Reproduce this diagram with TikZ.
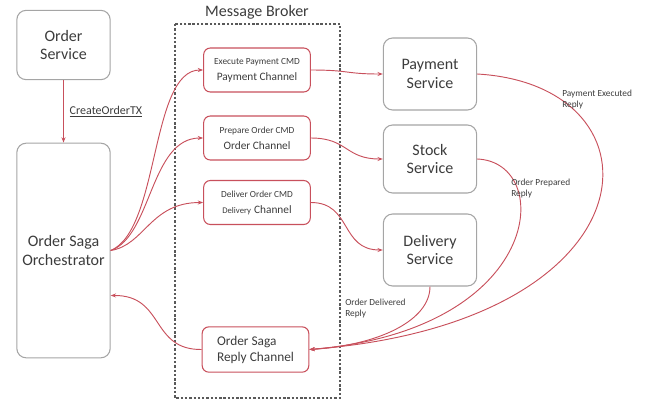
\documentclass[tikz,border=0pt]{standalone}
\usepackage{fontspec}
\setmainfont{Carlito}
\usetikzlibrary{arrows.meta}
\definecolor{sagared}{RGB}{200,80,92}
\definecolor{boxgray}{RGB}{165,165,165}
\definecolor{inkgray}{RGB}{60,60,60}

\begin{document}
\begin{tikzpicture}[x=0.75pt, y=-0.75pt,
    service/.style={draw=boxgray, line width=0.8pt, rounded corners=7pt, align=center,
      text=inkgray, font=\fontsize{12}{14}\selectfont, minimum width=70pt},
    channel/.style={draw=sagared, line width=0.8pt, rounded corners=5pt, align=center,
      text=inkgray, minimum width=80pt, minimum height=33pt, inner sep=1pt},
    flow/.style={draw=sagared, line width=0.7pt, -{Stealth[length=4pt, width=3pt]}},
    replynote/.style={align=left, text=inkgray, font=\fontsize{7}{8}\selectfont, anchor=north west, inner sep=0pt}]
  \useasboundingbox (0,0) rectangle (654,408);
  % message broker frame
  \draw[black!65, line width=1pt, dash pattern=on 1.8pt off 1.4pt] (175,24) rectangle (340,398);
  \node[text=inkgray, font=\fontsize{12}{14}\selectfont] (broker) at (257,12) {Message Broker};
  % services
  \node[service, minimum height=52pt] (ordersvc) at (63.5,45) {Order\\Service};
  \node[service, minimum height=161pt] (orch) at (63.5,250.5) {Order Saga\\Orchestrator};
  \node[service, minimum height=54pt] (paysvc) at (430,74) {Payment\\Service};
  \node[service, minimum height=51pt] (stocksvc) at (430,159) {Stock\\Service};
  \node[service, minimum height=54pt] (delsvc) at (430,250) {Delivery\\Service};
  % channels
  \node[channel] (paychan) at (257,70) {{\fontsize{7}{8}\selectfont Execute Payment CMD}\\{\fontsize{8.5}{10}\selectfont Payment Channel}};
  \node[channel] (prepchan) at (257,138) {{\fontsize{7}{8}\selectfont Prepare Order CMD}\\{\fontsize{8.5}{10}\selectfont Order Channel}};
  \node[channel] (delchan) at (257,202.5) {{\fontsize{7}{8}\selectfont Deliver Order CMD}\\{\fontsize{6.5}{10}\selectfont Delivery} {\fontsize{8.5}{10}\selectfont Channel}};
  \node[channel, minimum height=34pt, align=left, font=\fontsize{10}{12}\selectfont] (replychan) at (255.5,349.5) {Order Saga\\Reply Channel};
  % commands
  \draw[flow] (ordersvc) -- node[right, text=inkgray, font=\fontsize{9}{10}\selectfont, xshift=1pt] {\underline{CreateOrderTX}} (orch);
  \draw[flow] (orch.east) .. controls (160,230) and (150,70) .. (paychan.west);
  \draw[flow] (orch.east) .. controls (152,236) and (150,138) .. (prepchan.west);
  \draw[flow] (orch.east) .. controls (145,245) and (150,202.5) .. (delchan.west);
  \draw[flow] (paychan.east) .. controls (350,70) and (345,74) .. (paysvc.west);
  \draw[flow] (prepchan.east) .. controls (348,138) and (345,159) .. (stocksvc.west);
  \draw[flow] (delchan.east) .. controls (352,202.5) and (340,250) .. (delsvc.west);
  % replies
  \draw[flow] (paysvc.east) .. controls (670,85) and (660,322) .. (replychan.east);
  \draw[flow] (stocksvc.east) .. controls (555,162) and (545,330) .. (replychan.east);
  \draw[flow] (delsvc.south) .. controls (430,320) and (380,345) .. (replychan.east);
  \draw[flow] (replychan.west) .. controls (150,350) and (165,295) .. ([yshift=-33.75pt]orch.east);
  \node[replynote] (payreply) at (562,90) {Payment Executed\\Reply};
  \node[replynote] (prepreply) at (511,179) {Order Prepared\\Reply};
  \node[replynote] (delreply) at (345,299) {Order Delivered\\Reply};
\end{tikzpicture}
\end{document}
